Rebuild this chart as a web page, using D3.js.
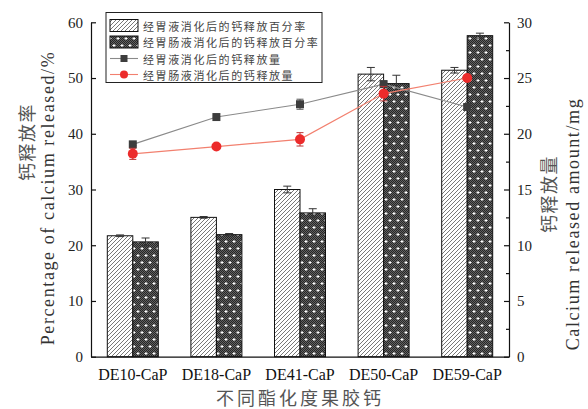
<!DOCTYPE html>
<html>
<head>
<meta charset="utf-8">
<script src="https://cdn.jsdelivr.net/npm/d3@7"></script>
<style>
  html, body { margin: 0; padding: 0; background: #ffffff; }
  svg { display: block; }
</style>
</head>
<body>
<svg id="chart" width="588" height="409"></svg>
<script>
// Pectin-calcium samples with different degrees of esterification
const categories = ["DE10-CaP", "DE18-CaP", "DE41-CaP", "DE50-CaP", "DE59-CaP"];

// Calcium release percentage (%), left axis
const gastricRate = [21.7, 25.0, 30.0, 50.7, 51.4];
const gastricRateErr = [0.15, 0.15, 0.6, 1.2, 0.5];
const intestinalRate = [20.6, 21.9, 25.8, 49.0, 57.6];
const intestinalRateErr = [0.7, 0.2, 0.75, 1.5, 0.45];

// Calcium release amount (mg), right axis
const gastricAmount = [19.05, 21.5, 22.65, 24.45, 22.4];
const gastricAmountErr = [0.1, 0.1, 0.45, 0.3, 0.1];
const intestinalAmount = [18.2, 18.85, 19.5, 23.6, 25.0];
const intestinalAmountErr = [0.5, 0.15, 0.6, 0.65, 0.2];

// Axis ticks
const leftTicks = [0, 10, 20, 30, 40, 50, 60];
const rightTicks = [0, 5, 10, 15, 20, 25, 30];
const rightMinorTicks = [2.5, 7.5, 12.5, 17.5, 22.5, 27.5];

// Legend entries
const legendLabels = [
  "经胃液消化后的钙释放百分率",
  "经胃肠液消化后的钙释放百分率",
  "经胃液消化后的钙释放量",
  "经胃肠液消化后的钙释放量"
];

const SERIF = '"Liberation Serif", "DejaVu Serif", serif';
const CJK = '"Noto Sans CJK SC", "Noto Sans", sans-serif';

const svg = d3.select("#chart");
const plot = { left: 91, right: 509, top: 22.3, bottom: 356.7 };

const x = d3.scaleBand().domain(categories)
  .range([plot.left, plot.right]).paddingInner(0.39).paddingOuter(0.195);
const x1 = d3.scaleBand().domain(["g", "i"]).range([0, x.bandwidth()]);
const yL = d3.scaleLinear().domain([0, 60]).range([plot.bottom, plot.top]);
const yR = d3.scaleLinear().domain([0, 30]).range([plot.bottom, plot.top]);

// ---- fill patterns ----
const defs = svg.append("defs");
const hatch = defs.append("pattern").attr("id", "hatch")
  .attr("patternUnits", "userSpaceOnUse").attr("width", 4).attr("height", 4);
hatch.append("rect").attr("width", 4).attr("height", 4).attr("fill", "#ffffff");
hatch.append("path").attr("d", "M-1,1 l2,-2 M0,4 l4,-4 M3,5 l2,-2")
  .attr("stroke", "#555").attr("stroke-width", 0.8);

const dots = defs.append("pattern").attr("id", "dots")
  .attr("patternUnits", "userSpaceOnUse").attr("width", 8).attr("height", 14);
dots.append("rect").attr("width", 8).attr("height", 14).attr("fill", "#626262");
let checker = "";
for (let i = 0; i < 8; i++) for (let j = 0; j < 14; j++)
  if ((i + j) % 2 === 0) checker += `M${i},${j}h1v1h-1z`;
dots.append("path").attr("d", checker).attr("fill", "#262626");
[[2, 3.5], [6, 10.5]].forEach(([cx, cy]) => {
  dots.append("path")
    .attr("d", `M${cx - 1.5},${cy - 0.5}h3v1h-3z M${cx - 0.5},${cy - 1.5}h1v3h-1z`)
    .attr("fill", "#ffffff");
});

// ---- bars ----
const barSeries = [
  { key: "g", values: gastricRate, errs: gastricRateErr, fill: "url(#hatch)" },
  { key: "i", values: intestinalRate, errs: intestinalRateErr, fill: "url(#dots)" }
];
const bars = svg.append("g");
barSeries.forEach(s => {
  categories.forEach((c, i) => {
    const bx = x(c) + x1(s.key);
    bars.append("rect")
      .attr("x", bx).attr("y", yL(s.values[i]))
      .attr("width", x1.bandwidth()).attr("height", yL(0) - yL(s.values[i]))
      .attr("fill", s.fill).attr("stroke", "#111").attr("stroke-width", 1);
  });
});
// bar error bars
barSeries.forEach(s => {
  categories.forEach((c, i) => {
    const cx = x(c) + x1(s.key) + x1.bandwidth() / 2;
    const hi = yL(s.values[i] + s.errs[i]), lo = yL(s.values[i] - s.errs[i]);
    bars.append("path")
      .attr("d", `M${cx},${hi}V${lo}M${cx - 4},${hi}H${cx + 4}M${cx - 4},${lo}H${cx + 4}`)
      .attr("stroke", "#333").attr("stroke-width", 1).attr("fill", "none");
  });
});

// ---- lines on the right axis ----
const cxOf = c => x(c) + x.bandwidth() / 2;
const lineSeries = [
  { values: gastricAmount, errs: gastricAmountErr, line: "#8a8a8a", mark: "#3d3d3d", err: "#555", shape: "square" },
  { values: intestinalAmount, errs: intestinalAmountErr, line: "#f2806f", mark: "#ec2b2b", err: "#b33", shape: "circle" }
];
const lineGen = d3.line().x(d => cxOf(d.c)).y(d => yR(d.v));
lineSeries.forEach(s => {
  const pts = categories.map((c, i) => ({ c, v: s.values[i], e: s.errs[i] }));
  const g = svg.append("g");
  g.append("path").datum(pts).attr("d", lineGen)
    .attr("fill", "none").attr("stroke", s.line).attr("stroke-width", 1.1);
  pts.forEach(p => {
    const cx = cxOf(p.c), hi = yR(p.v + p.e), lo = yR(p.v - p.e);
    g.append("path")
      .attr("d", `M${cx},${hi}V${lo}M${cx - 3.5},${hi}H${cx + 3.5}M${cx - 3.5},${lo}H${cx + 3.5}`)
      .attr("stroke", s.err).attr("stroke-width", 1).attr("fill", "none");
  });
  pts.forEach(p => {
    const cx = cxOf(p.c), cy = yR(p.v);
    if (s.shape === "square") {
      g.append("rect").attr("x", cx - 4).attr("y", cy - 4)
        .attr("width", 8).attr("height", 8).attr("fill", s.mark);
    } else {
      g.append("circle").attr("cx", cx).attr("cy", cy).attr("r", 5).attr("fill", s.mark);
    }
  });
});

// ---- axes ----
const leftAxis = svg.append("g").attr("transform", `translate(${plot.left},0)`)
  .call(d3.axisLeft(yL).tickValues(leftTicks).tickSizeInner(-5).tickSizeOuter(0).tickPadding(8));
const rightAxis = svg.append("g").attr("transform", `translate(${plot.right},0)`)
  .call(d3.axisRight(yR).tickValues(rightTicks).tickSizeInner(-5).tickSizeOuter(0).tickPadding(8));
svg.append("g").attr("transform", `translate(${plot.right},0)`)
  .call(d3.axisRight(yR).tickValues(rightMinorTicks).tickSizeInner(-3).tickSizeOuter(0).tickFormat(""))
  .select(".domain").remove();
const bottomAxis = svg.append("g").attr("transform", `translate(0,${plot.bottom})`)
  .call(d3.axisBottom(x).tickSize(0).tickSizeOuter(0).tickPadding(12));

[leftAxis, rightAxis].forEach(a => a.attr("font-family", SERIF).attr("font-size", 15)
  .selectAll("text").attr("fill", "#222"));
bottomAxis.attr("font-family", SERIF).attr("font-size", 16)
  .selectAll("text").attr("fill", "#111");
svg.selectAll(".domain, .tick line").attr("stroke", "#111").attr("stroke-width", 1.2);

// ---- axis titles ----
function vText(tx, ty, str, family, size, spacing, color) {
  svg.append("text")
    .attr("transform", `translate(${tx},${ty}) rotate(-90)`)
    .attr("text-anchor", "middle").attr("dominant-baseline", "central")
    .attr("font-family", family).attr("font-size", size)
    .style("letter-spacing", spacing + "px")
    .attr("fill", color).text(str);
}
vText(26, 142, "钙释放率", CJK, 18, 1.5, "#555");
vText(48, 198, "Percentage of calcium released/%", SERIF, 18, 1.6, "#333");
vText(548, 194, "钙释放量", CJK, 18, 1.5, "#555");
vText(573, 224, "Calcium released amount/mg", SERIF, 18, 1.6, "#333");

svg.append("text")
  .attr("x", (plot.left + plot.right) / 2).attr("y", 405)
  .attr("text-anchor", "middle").attr("font-family", CJK).attr("font-size", 18)
  .style("letter-spacing", "3px").attr("fill", "#555").text("不同酯化度果胶钙");

// ---- legend ----
const legend = svg.append("g");
legend.append("rect").attr("x", 106).attr("y", 12.5).attr("width", 216).attr("height", 70)
  .attr("fill", "#ffffff").attr("stroke", "#222").attr("stroke-width", 1);
const rowY = [25.5, 42, 58.5, 74.5];
["url(#hatch)", "url(#dots)"].forEach((f, i) => {
  legend.append("rect").attr("x", 110).attr("y", rowY[i] - 6).attr("width", 28).attr("height", 12)
    .attr("fill", f).attr("stroke", "#111").attr("stroke-width", 1);
});
lineSeries.forEach((s, k) => {
  const yy = rowY[k + 2];
  legend.append("line").attr("x1", 110).attr("x2", 138).attr("y1", yy).attr("y2", yy)
    .attr("stroke", s.line).attr("stroke-width", 1.1);
  if (s.shape === "square") {
    legend.append("rect").attr("x", 120.5).attr("y", yy - 3.5).attr("width", 7).attr("height", 7).attr("fill", s.mark);
  } else {
    legend.append("circle").attr("cx", 124).attr("cy", yy).attr("r", 4).attr("fill", s.mark);
  }
});
legendLabels.forEach((t, i) => {
  legend.append("text").attr("x", 143).attr("y", rowY[i])
    .attr("dominant-baseline", "central").attr("font-family", CJK).attr("font-size", 11)
    .style("letter-spacing", "1.6px").attr("fill", "#444").text(t);
});
</script>
</body>
</html>
